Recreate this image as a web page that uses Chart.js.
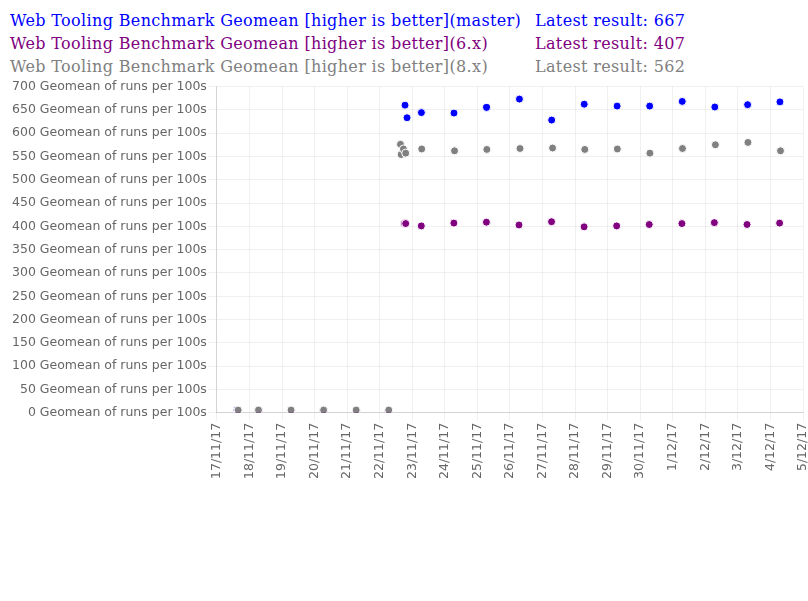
<!DOCTYPE html>
<html>
<head>
<meta charset="utf-8">
<script src="https://cdn.jsdelivr.net/npm/chart.js@4.4.1/dist/chart.umd.min.js"></script>
<style>
    body { margin: 0; background: #fff; width: 808px; height: 601px; overflow: hidden; }
    #header { position: absolute; top: 9px; left: 10px; font-family: 'DejaVu Serif', serif; font-size: 16px; line-height: 23px; letter-spacing: 0.35px; }
    .row { white-space: nowrap; }
    .row span { display: inline-block; }
    .row .name { width: 525px; }
    #chartBox { position: absolute; top: 78px; left: 0; width: 820px; height: 403px; }
</style>
</head>
<body>
<div id="header"></div>
<div id="chartBox"><canvas id="benchChart"></canvas></div>
<script>
// Series data (times are day/month 2017, hh:mm)
const seriesNames = ['master', '6.x', '8.x'];
const seriesColors = ['#0000ff', '#800080', '#808080'];

const masterTimes = ['17/11 14:50', '18/11 06:40', '19/11 06:40', '20/11 06:40', '21/11 06:40', '22/11 06:40',
    '22/11 18:40', '22/11 20:10', '23/11 06:45', '24/11 06:45', '25/11 06:45', '26/11 07:00', '27/11 06:45',
    '28/11 06:45', '29/11 07:00', '30/11 07:00', '1/12 07:00', '2/12 07:00', '3/12 07:10', '4/12 07:00'];
const masterValues = [6, 5, 5, 5, 5, 5,
    660, 633, 644, 643, 655, 673, 628, 662, 658, 658, 668, 656, 661, 667];

const v6Times = ['17/11 15:40', '18/11 06:40', '19/11 06:40', '20/11 06:40', '21/11 06:40', '22/11 06:40',
    '22/11 18:15', '22/11 19:10', '23/11 06:40', '24/11 06:40', '25/11 06:40', '26/11 06:40', '27/11 06:40',
    '28/11 06:40', '29/11 06:40', '30/11 06:40', '1/12 06:45', '2/12 06:40', '3/12 06:45', '4/12 06:45'];
const v6Values = [3, 3, 3, 3, 3, 3,
    406, 406, 401, 407, 409, 403, 410, 399, 401, 404, 406, 408, 404, 407];

const v8Times = ['17/11 15:40', '18/11 06:40', '19/11 06:40', '20/11 06:40', '21/11 06:40', '22/11 06:40',
    '22/11 15:20', '22/11 15:50', '22/11 17:30', '22/11 19:10', '23/11 06:58', '24/11 07:10', '25/11 06:58',
    '26/11 07:25', '27/11 07:25', '28/11 07:10', '29/11 07:10', '30/11 07:10', '1/12 07:10', '2/12 07:25',
    '3/12 07:25', '4/12 07:25'];
const v8Values = [6, 6, 6, 6, 6, 6,
    576, 554, 566, 557, 566, 562, 565, 567, 568, 565, 566, 557, 567, 575, 580, 562];

// Axis range: days counted from 17/11/17
const xMinDay = 0;
const xMaxDay = 18;
const yMax = 700;
const yStep = 50;
const yUnit = 'Geomean of runs per 100s';
const titleText = 'Web Tooling Benchmark Geomean [higher is better]';

const baseTime = Date.UTC(2017, 10, 17);

const toDays = (s) => {
    const [dm, hm] = s.split(' ');
    const [d, m] = dm.split('/').map(Number);
    const [h, mi] = hm.split(':').map(Number);
    return (Date.UTC(2017, m - 1, d, h, mi) - baseTime) / 86400000;
};

const toPoints = (times, values) => times.map((t, i) => ({ x: toDays(t), y: values[i] }));

const allSeries = [
    toPoints(masterTimes, masterValues),
    toPoints(v6Times, v6Values),
    toPoints(v8Times, v8Values)
];

// Header legend with latest result
const header = document.getElementById('header');
seriesNames.forEach((name, i) => {
    const vals = [masterValues, v6Values, v8Values][i];
    const row = document.createElement('div');
    row.className = 'row';
    row.style.color = seriesColors[i];
    row.innerHTML = `<span class="name">${titleText}(${name})</span><span>Latest result: ${vals[vals.length - 1]}</span>`;
    header.appendChild(row);
});

Chart.defaults.font.family = "'DejaVu Sans', sans-serif";
Chart.defaults.font.size = 12.5;
Chart.defaults.color = '#666';

// gray drawn first in list so it sits on top
const datasets = [2, 1, 0].map(i => ({
    label: seriesNames[i],
    data: allSeries[i],
    backgroundColor: seriesColors[i],
    borderColor: '#fff',
    borderWidth: 1,
    pointRadius: 4,
    showLine: false
}));

new Chart(document.getElementById('benchChart'), {
    type: 'scatter',
    data: { datasets: datasets },
    options: {
        responsive: true,
        maintainAspectRatio: false,
        animation: false,
        layout: { padding: { left: 11 } },
        plugins: {
            legend: { display: false },
            tooltip: { enabled: true }
        },
        scales: {
            x: {
                type: 'linear',
                min: xMinDay,
                max: xMaxDay,
                grid: { color: 'rgba(0,0,0,0.06)', tickLength: 8 },
                border: { color: 'rgba(0,0,0,0.12)' },
                ticks: {
                    stepSize: 1,
                    maxTicksLimit: 20,
                    minRotation: 90,
                    maxRotation: 90,
                    padding: 2,
                    callback: value => {
                        const d = new Date(baseTime + value * 86400000);
                        return `${d.getUTCDate()}/${d.getUTCMonth() + 1}/${String(d.getUTCFullYear()).slice(2)}`;
                    }
                }
            },
            y: {
                min: 0,
                max: yMax,
                grid: { color: 'rgba(0,0,0,0.06)', tickLength: 9 },
                border: { color: 'rgba(0,0,0,0.12)' },
                ticks: {
                    stepSize: yStep,
                    maxTicksLimit: 20,
                    padding: 1,
                    callback: value => `${value} ${yUnit}`
                }
            }
        }
    }
});
</script>
</body>
</html>
